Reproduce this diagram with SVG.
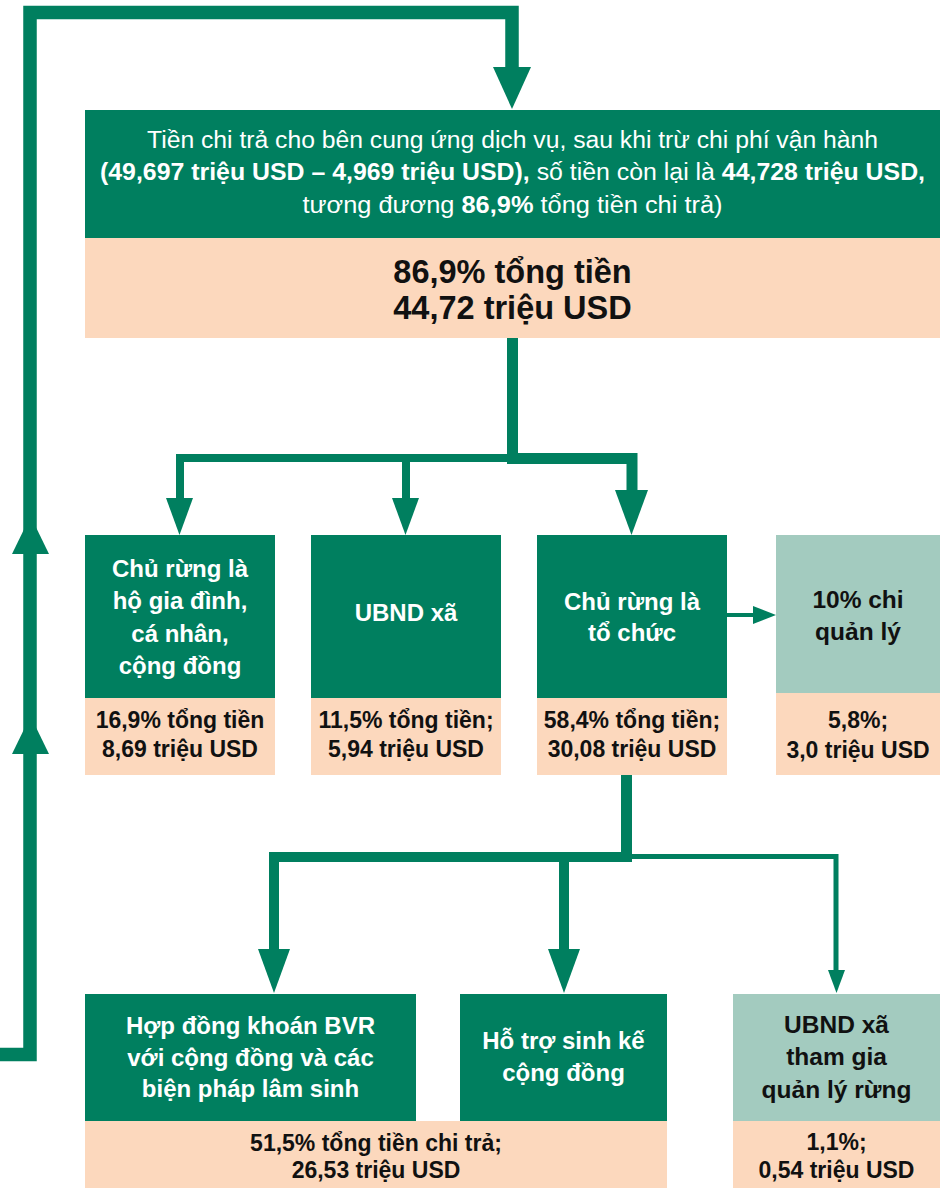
<svg xmlns="http://www.w3.org/2000/svg" width="948" height="1189" viewBox="0 0 948 1189">
<style>
.g{fill:#007f5f}
.p{fill:#fcd8bd}
.l{fill:#a3cbbf}
.ln{fill:none;stroke:#007f5f;stroke-linejoin:miter;stroke-linecap:butt}
.ah{fill:#007f5f}
text{font-family:"Liberation Sans","Noto Sans",Arial,sans-serif;text-anchor:middle}
.w{fill:#ffffff;font-weight:bold;font-size:24px}
.k{fill:#111111;font-weight:bold;font-size:23px}
.kl{fill:#111111;font-weight:bold;font-size:24.5px}
.kb{fill:#111111;font-weight:bold;font-size:32.5px}
.t{fill:#ffffff;font-size:23px}
.b{font-weight:bold}
</style>
<rect width="948" height="1189" fill="#ffffff"/>
<g id="connectors">
  <path class="ln" stroke-width="13.5" d="M0,1054.5 H30 V12.5 H512 V68"/>
  <polygon class="ah" points="493,67 531,67 512,109"/>
  <polygon class="ah" points="12,554 49,554 30.5,516"/>
  <polygon class="ah" points="12,754 49,754 30.5,716"/>
  <path class="ln" stroke-width="11" d="M512.5,338 V464"/>
  <path class="ln" stroke-width="8" d="M512,458 H180 V498"/>
  <path class="ln" stroke-width="8" d="M406,458 V498"/>
  <polygon class="ah" points="166,498 193,498 179.5,535"/>
  <polygon class="ah" points="392,498 419,498 405.5,535"/>
  <path class="ln" stroke-width="11" d="M507,458.5 H632 V490"/>
  <polygon class="ah" points="615,490 648,490 631.5,535"/>
  <path class="ln" stroke-width="4" d="M727,615 H755"/>
  <polygon class="ah" points="753,606 776,615 753,624"/>
  <path class="ln" stroke-width="11" d="M626.5,775 V862"/>
  <path class="ln" stroke-width="10" d="M632,857 H274 V949"/>
  <path class="ln" stroke-width="10" d="M564,857 V949"/>
  <polygon class="ah" points="258,949 290,949 274,993"/>
  <polygon class="ah" points="548,949 580,949 564,993"/>
  <path class="ln" stroke-width="5" d="M626,856.5 H836 V970"/>
  <polygon class="ah" points="828,970 845,970 836.5,993"/>
</g>
<g id="n-top">
  <rect class="g" x="85" y="110" width="855" height="128"/>
  <rect class="p" x="85" y="238" width="855" height="100"/>
  <text class="t" x="512.5" y="148" textLength="731" lengthAdjust="spacingAndGlyphs">Tiền chi trả cho bên cung ứng dịch vụ, sau khi trừ chi phí vận hành</text>
  <text class="t" x="512.5" y="180" textLength="825" lengthAdjust="spacingAndGlyphs"><tspan class="b">(49,697 triệu USD – 4,969 triệu USD),</tspan> số tiền còn lại là <tspan class="b">44,728 triệu USD,</tspan></text>
  <text class="t" x="512.5" y="213" textLength="420" lengthAdjust="spacingAndGlyphs">tương đương <tspan class="b">86,9%</tspan> tổng tiền chi trả)</text>
  <text class="kb" x="512.5" y="283">86,9% tổng tiền</text>
  <text class="kb" x="512.5" y="319">44,72 triệu USD</text>
</g>
<g id="n-hogiadinh">
  <rect class="g" x="85" y="535" width="190" height="163"/>
  <rect class="p" x="85" y="698" width="190" height="77"/>
  <text class="w" x="180" y="577">Chủ rừng là</text>
  <text class="w" x="180" y="609">hộ gia đình,</text>
  <text class="w" x="180" y="642">cá nhân,</text>
  <text class="w" x="180" y="674">cộng đồng</text>
  <text class="k" x="180" y="728">16,9% tổng tiền</text>
  <text class="k" x="180" y="757">8,69 triệu USD</text>
</g>
<g id="n-ubnd">
  <rect class="g" x="311" y="535" width="190" height="163"/>
  <rect class="p" x="311" y="698" width="190" height="77"/>
  <text class="w" x="406" y="621">UBND xã</text>
  <text class="k" x="406" y="728">11,5% tổng tiền;</text>
  <text class="k" x="406" y="757">5,94 triệu USD</text>
</g>
<g id="n-tochuc">
  <rect class="g" x="537" y="535" width="190" height="163"/>
  <rect class="p" x="537" y="698" width="190" height="77"/>
  <text class="w" x="632" y="610">Chủ rừng là</text>
  <text class="w" x="632" y="641">tổ chức</text>
  <text class="k" x="632" y="728">58,4% tổng tiền;</text>
  <text class="k" x="632" y="757">30,08 triệu USD</text>
</g>
<g id="n-quanly">
  <rect class="l" x="776" y="535" width="164" height="158"/>
  <rect class="p" x="776" y="693" width="164" height="82"/>
  <text class="kl" x="858" y="608">10% chi</text>
  <text class="kl" x="858" y="640">quản lý</text>
  <text class="k" x="858" y="728">5,8%;</text>
  <text class="k" x="858" y="758">3,0 triệu USD</text>
</g>
<g id="n-hopdong">
  <rect class="g" x="85" y="994" width="331" height="127"/>
  <text class="w" x="250.5" y="1034">Hợp đồng khoán BVR</text>
  <text class="w" x="250.5" y="1066">với cộng đồng và các</text>
  <text class="w" x="250.5" y="1097">biện pháp lâm sinh</text>
</g>
<g id="n-sinhke">
  <rect class="g" x="460" y="994" width="207" height="127"/>
  <text class="w" x="563.5" y="1049">Hỗ trợ sinh kế</text>
  <text class="w" x="563.5" y="1081">cộng đồng</text>
</g>
<g id="n-tong-duoi">
  <rect class="p" x="85" y="1121" width="582" height="67"/>
  <text class="k" x="376" y="1151">51,5% tổng tiền chi trả;</text>
  <text class="k" x="376" y="1178">26,53 triệu USD</text>
</g>
<g id="n-ubnd-thamgia">
  <rect class="l" x="733" y="994" width="207" height="127"/>
  <rect class="p" x="733" y="1121" width="207" height="67"/>
  <text class="kl" x="836.5" y="1033">UBND xã</text>
  <text class="kl" x="836.5" y="1065">tham gia</text>
  <text class="kl" x="836.5" y="1098">quản lý rừng</text>
  <text class="k" x="836.5" y="1150">1,1%;</text>
  <text class="k" x="836.5" y="1178">0,54 triệu USD</text>
</g>
</svg>
